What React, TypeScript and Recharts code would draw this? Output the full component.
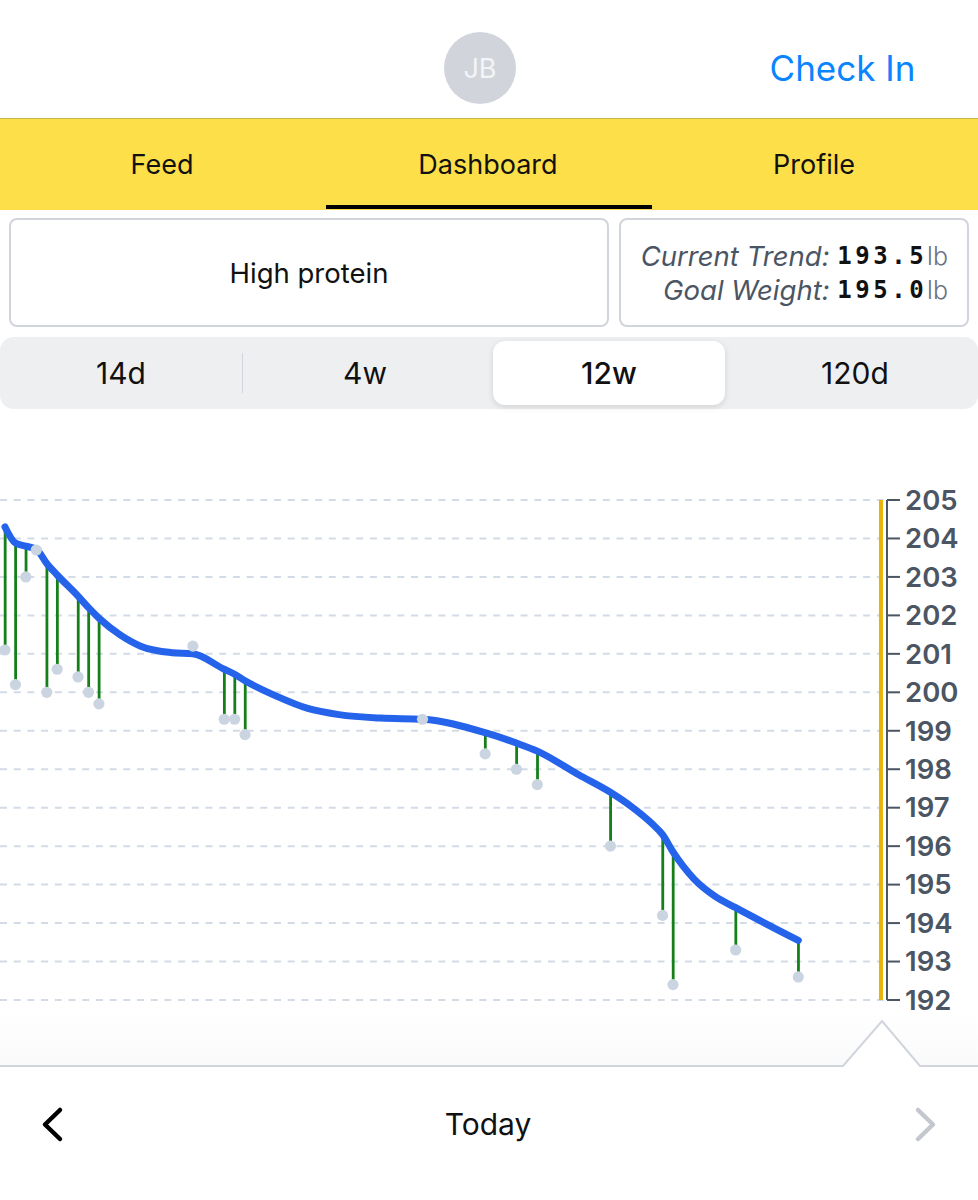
import React from "react";
import { ComposedChart, Line, Bar, XAxis, YAxis, CartesianGrid, ReferenceLine, ReferenceArea } from "recharts";

const trendDays = [0, 1, 2, 3, 4, 5, 7, 8, 9, 11, 13, 16, 18, 21, 22, 23, 26, 29, 32, 36, 40, 46, 49, 51, 55, 58, 60, 62, 63, 64, 66, 68, 70, 76];
const trendValues = [204.3, 203.88, 203.8, 203.72, 203.35, 203.05, 202.5, 202.2, 201.93, 201.5, 201.2, 201.03, 201.0, 200.6, 200.47, 200.3, 199.9, 199.58, 199.42, 199.33, 199.3, 198.95, 198.68, 198.47, 197.85, 197.4, 197.03, 196.58, 196.3, 195.85, 195.15, 194.7, 194.4, 193.55];
const weighDays = [0, 1, 2, 3, 4, 5, 7, 8, 9, 18, 21, 22, 23, 40, 46, 49, 51, 58, 63, 64, 70, 76];
const weights = [201.1, 200.2, 203.0, 203.7, 200.0, 200.6, 200.4, 200.0, 199.7, 201.2, 199.3, 199.3, 198.9, 199.3, 198.4, 198.0, 197.6, 196.0, 194.2, 192.4, 193.3, 192.6];
const yTicks = [192, 193, 194, 195, 196, 197, 198, 199, 200, 201, 202, 203, 204, 205];
const tabs = ["Feed", "Dashboard", "Profile"];
const ranges = ["14d", "4w", "12w", "120d"];
const goalMarkerDay = 83.92;
const xStart = -0.478;
const xEnd = 84.5;

const rows = trendDays.map((day, i) => {
  const w = weighDays.indexOf(day);
  return {
    day,
    trend: trendValues[i],
    weight: w >= 0 ? weights[w] : null,
    gap: w >= 0 && weights[w] < trendValues[i] ? [weights[w], trendValues[i]] : null,
  };
});

const font = "Inter, 'Noto Sans', sans-serif";
const abs = (left: number, top: number, width: number, height: number): React.CSSProperties => ({
  position: "absolute", left, top, width, height,
});
const centered: React.CSSProperties = { display: "flex", alignItems: "center", justifyContent: "center" };
const mono: React.CSSProperties = { fontFamily: "'DejaVu Sans Mono', monospace", fontWeight: 700, fontStyle: "normal", fontSize: 24, letterSpacing: 3.5, color: "#111" };
const unit: React.CSSProperties = { fontStyle: "normal", color: "#6b7280", fontSize: 25, fontWeight: 300 };
const statRow: React.CSSProperties = { display: "flex", alignItems: "center", justifyContent: "flex-end", fontSize: 27.5, fontStyle: "italic", color: "#4b5563", whiteSpace: "nowrap" };

export default function App() {
  return (
    <div style={{ position: "absolute", left: 0, top: 0, width: 978, height: 1200, background: "#fff", overflow: "hidden", fontFamily: font, color: "#111" }}>
      <div style={{ ...abs(444, 32, 72, 72), ...centered, borderRadius: 36, background: "#d1d5db", color: "#f3f4f6", fontSize: 27 }}>JB</div>
      <div style={{ ...abs(760, 43, 165, 50), ...centered, color: "#0a84ff", fontSize: 35 }}>Check In</div>

      <div style={{ ...abs(0, 118, 978, 92), background: "#fddf49", borderTop: "1px solid #c9b64a", boxSizing: "border-box" }} />
      {tabs.map((t, i) => (
        <div key={t} style={{ ...abs(i * 326 - 1, 139, 326, 50), ...centered, fontSize: 27 }}>{t}</div>
      ))}
      <div style={{ ...abs(326, 205, 326, 4), background: "#000" }} />

      <div style={{ ...abs(9, 218, 600, 109), ...centered, boxSizing: "border-box", border: "2px solid #d1d5db", borderRadius: 8, fontSize: 27.5 }}>High protein</div>
      <div style={{ ...abs(619, 218, 350, 109), boxSizing: "border-box", border: "2px solid #d1d5db", borderRadius: 8 }} />
      <div style={{ ...abs(620, 238, 328, 36), ...statRow }}>
        <span>Current Trend:&nbsp;</span><span style={mono}>193.5</span><span style={unit}>lb</span>
      </div>
      <div style={{ ...abs(620, 272, 328, 36), ...statRow }}>
        <span>Goal Weight:&nbsp;</span><span style={mono}>195.0</span><span style={unit}>lb</span>
      </div>

      <div style={{ ...abs(0, 337, 978, 72), background: "#eeeff1", borderRadius: 14 }} />
      <div style={{ ...abs(242, 353, 1, 40), background: "#d1d5db" }} />
      <div style={{ ...abs(493, 341, 232, 64), background: "#fff", borderRadius: 12, boxShadow: "0 2px 6px rgba(0,0,0,0.12)" }} />
      {ranges.map((r, i) => (
        <div key={r} style={{ ...abs([21, 265, 509, 755][i], 348, 200, 50), ...centered, fontSize: 30, fontWeight: i === 2 ? 500 : 400 }}>{r}</div>
      ))}

      <svg style={{ ...abs(0, 1010, 978, 62) }} width={978} height={62}>
        <defs>
          <linearGradient id="fade" x1="0" y1="0" x2="0" y2="1">
            <stop offset="0" stopColor="#f3f4f6" stopOpacity={0} />
            <stop offset="1" stopColor="#f3f4f6" stopOpacity={0.45} />
          </linearGradient>
        </defs>
        <path d="M0 56 H843 L882 11 L920 56 H978 V0 H0 Z" fill="url(#fade)" />
        <path d="M0 56 H843 L882 11 L920 56 H978" fill="none" stroke="#d1d5db" strokeWidth={2} />
      </svg>

      <div style={{ ...abs(0, 470, 978, 560) }}>
        <ComposedChart
          width={978}
          height={560}
          data={rows}
          margin={{ top: 30, right: 0, bottom: 30, left: 0 }}
        >
          <CartesianGrid horizontal vertical={false} stroke="#d3dce6" strokeWidth={2} strokeDasharray="7 6.7" />
          <XAxis type="number" dataKey="day" domain={[xStart, xEnd]} allowDataOverflow hide />
          <YAxis
            orientation="right"
            type="number"
            domain={[192, 205]}
            ticks={yTicks}
            interval={0}
            width={91}
            stroke="#4b5563"
            strokeWidth={2}
            tickSize={13}
            tickMargin={5}
            tick={{ fill: "#4b5563", fontSize: 27.5, fontWeight: 600, fontFamily: font, textAnchor: "start" }}
          />
          <ReferenceArea x1={84} x2={xEnd} y1={192} y2={205} fill="#fff" fillOpacity={1} stroke="none" />
          <ReferenceLine x={goalMarkerDay} stroke="#eab308" strokeWidth={4} />
          <Line type="monotone" dataKey="trend" stroke="#2563eb" strokeWidth={7} strokeLinecap="round" dot={false} isAnimationActive={false} />
          <Bar dataKey="gap" fill="#15801a" barSize={2.8} isAnimationActive={false} />
          <Line dataKey="weight" stroke="none" connectNulls={false} dot={{ r: 5.6, fill: "#cbd5e1", stroke: "none" }} activeDot={false} isAnimationActive={false} />
        </ComposedChart>
      </div>

      <svg style={{ ...abs(30, 1100, 50, 50) }} width={50} height={50}>
        <path d="M30 10 L15 24.5 L30 39" fill="none" stroke="#000" strokeWidth={4.5} strokeLinecap="round" strokeLinejoin="round" />
      </svg>
      <div style={{ ...abs(388, 1100, 200, 48), ...centered, fontSize: 30 }}>Today</div>
      <svg style={{ ...abs(900, 1100, 50, 50) }} width={50} height={50}>
        <path d="M18 10 L33 24.5 L18 39" fill="none" stroke="#c4c8ce" strokeWidth={4.5} strokeLinecap="round" strokeLinejoin="round" />
      </svg>
    </div>
  );
}
